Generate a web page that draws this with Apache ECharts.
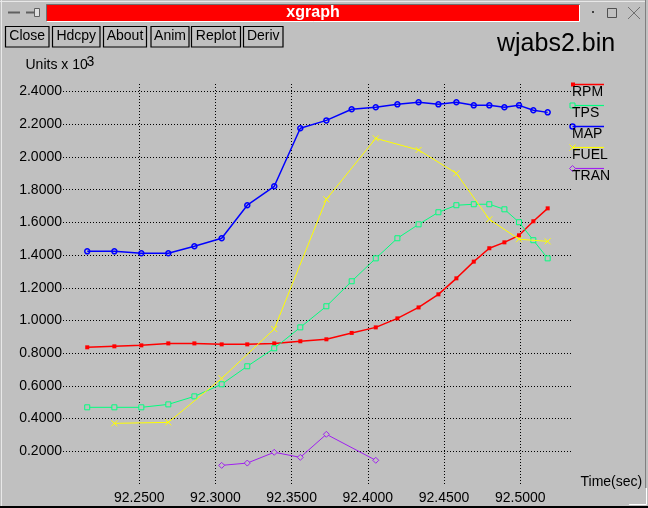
<!DOCTYPE html>
<html><head><meta charset="utf-8">
<script src="https://cdn.jsdelivr.net/npm/echarts@6/dist/echarts.min.js"></script>
<style>html,body{margin:0;padding:0;background:#c0c0c0;overflow:hidden}#c{width:648px;height:508px}</style>
</head><body><div id="c"></div>
<script>
// ---- data ----
const times = [92.2159, 92.2337, 92.2514, 92.2691, 92.2862, 92.3041, 92.3209, 92.3386, 92.3557, 92.3728, 92.3894,
               92.4052, 92.4194, 92.4333, 92.4463, 92.4581, 92.4695, 92.4797, 92.4896, 92.4992, 92.5086, 92.5180];
const rpm  = [0.836, 0.842, 0.848, 0.860, 0.860, 0.854, 0.854, 0.860, 0.873, 0.885, 0.924,
              0.958, 1.013, 1.080, 1.160, 1.258, 1.360, 1.442, 1.478, 1.521, 1.607, 1.686];
const tps  = [0.469, 0.469, 0.469, 0.487, 0.536, 0.610, 0.720, 0.830, 0.958, 1.087, 1.240,
              1.380, 1.503, 1.588, 1.662, 1.705, 1.711, 1.711, 1.680, 1.601, 1.491, 1.380];
const map  = [1.423, 1.423, 1.411, 1.411, 1.454, 1.503, 1.705, 1.821, 2.176, 2.224, 2.292,
              2.304, 2.322, 2.335, 2.322, 2.335, 2.316, 2.316, 2.304, 2.316, 2.286, 2.273];
const fuel = [null, 0.371, null, 0.377, null, 0.646, null, 0.948, null, 1.741, null,
              2.114, null, 2.043, null, 1.900, null, 1.619, null, 1.497, null, 1.484];
const tran = [null, null, null, null, null, 0.114, 0.128, 0.194, 0.163, 0.304, null,
              0.145, null, null, null, null, null, null, null, null, null, null];
const seriesNames = ['RPM', 'TPS', 'MAP', 'FUEL', 'TRAN'];
const seriesValues = [rpm, tps, map, fuel, tran];
const buttonLabels = ['Close', 'Hdcpy', 'About', 'Anim', 'Replot', 'Deriv'];
const windowTitle = 'xgraph';
const plotTitle = 'wjabs2.bin';
const yAxisTitle = 'Units x 10';
const yAxisExp = '3';
const xAxisTitle = 'Time(sec)';
const xMin = 92.2, xMax = 92.5333, xStep = 0.05;
const yMin = 0, yMax = 2.4465, yStep = 0.2;

// ---- styling ----
function hasFont(name) {
  const c = document.createElement('canvas').getContext('2d');
  const s = 'abcdefghijkWMxyz0123456789';
  c.font = '40px monospace'; const a = c.measureText(s).width;
  c.font = '40px "' + name + '", monospace'; const b = c.measureText(s).width;
  return Math.abs(a - b) > 0.5;
}
const narrow = hasFont('Liberation Sans Narrow');
const FF = narrow ? '"Liberation Sans Narrow", "Liberation Sans", sans-serif' : '"Liberation Sans", sans-serif';
const FS = narrow ? 16 : 14;
const WIDE = '"Liberation Sans", Arial, sans-serif';
const BG = '#c0c0c0';
const colors = ['#ff0000', '#00ff7f', '#0000ff', '#ffff00', '#a020f0'];
const lineWidths = [1.5, 1, 1.5, 1, 1];
const xMark = 'path://M0,0L10,10M10,0L0,10';
const symbols = ['rect', 'rect', 'circle', xMark, 'diamond'];
const symbolSizes = [4, 5, 5, 6, 6];
const symbolFill = ['#ff0000', BG, 'rgba(0,0,0,0)', 'rgba(0,0,0,0)', BG];
const symbolBorder = [0, 1, 1.5, 1, 1];

const series = seriesNames.map((name, k) => ({
  name, type: 'line',
  data: times.map((t, i) => [t, seriesValues[k][i]]).filter(p => p[1] != null),
  symbol: symbols[k], symbolSize: symbolSizes[k],
  itemStyle: { color: symbolFill[k], borderColor: colors[k], borderWidth: symbolBorder[k] },
  lineStyle: { color: colors[k], width: lineWidths[k] },
  silent: true, emphasis: { disabled: true }, z: 3 + k
}));

// ---- decorations (window frame, buttons, legend) ----
const g = [];
// window frame
g.push({ type: 'line', shape: { x1: 1.5, y1: 0, x2: 1.5, y2: 506 }, style: { stroke: '#e8e8e8', lineWidth: 1 } });
g.push({ type: 'line', shape: { x1: 0, y1: 1.5, x2: 646, y2: 1.5 }, style: { stroke: '#e8e8e8', lineWidth: 1 } });
g.push({ type: 'line', shape: { x1: 645.5, y1: 0, x2: 645.5, y2: 488 }, style: { stroke: '#808080', lineWidth: 1 } });
g.push({ type: 'rect', shape: { x: 0, y: 506, width: 648, height: 2 }, style: { fill: '#000' } });
g.push({ type: 'polyline', shape: { points: [[629, 504.5], [646.5, 504.5], [646.5, 488]] }, style: { stroke: '#ffffff', lineWidth: 1, fill: null } });
// title bar icons
g.push({ type: 'line', shape: { x1: 8, y1: 12.5, x2: 20, y2: 12.5 }, style: { stroke: '#606060', lineWidth: 2 } });
g.push({ type: 'line', shape: { x1: 26, y1: 12.5, x2: 34, y2: 12.5 }, style: { stroke: '#606060', lineWidth: 2 } });
g.push({ type: 'rect', shape: { x: 34.5, y: 8.5, width: 5, height: 8 }, style: { stroke: '#606060', fill: '#e0e0e0', lineWidth: 1 } });
g.push({ type: 'rect', shape: { x: 46.5, y: 4.5, width: 533, height: 16.5 }, style: { fill: '#ff0000', stroke: null } });
g.push({ type: 'polyline', shape: { points: [[46.5, 21], [46.5, 4.5], [579.5, 4.5]] }, style: { stroke: '#707070', lineWidth: 1, fill: null } });
g.push({ type: 'polyline', shape: { points: [[47, 21.5], [579.5, 21.5], [579.5, 5]] }, style: { stroke: '#ffffff', lineWidth: 1, fill: null } });
g.push({ type: 'text', x: 313, y: 13, style: { text: windowTitle, fill: '#ffffff', font: 'bold 16px ' + WIDE, align: 'center', verticalAlign: 'middle' } });
g.push({ type: 'rect', shape: { x: 592, y: 11, width: 2, height: 2 }, style: { fill: '#404040' } });
g.push({ type: 'rect', shape: { x: 607.5, y: 8.5, width: 9, height: 9 }, style: { stroke: '#505050', fill: null, lineWidth: 1 } });
g.push({ type: 'line', shape: { x1: 628, y1: 7, x2: 640, y2: 19 }, style: { stroke: '#707070', lineWidth: 1 } });
g.push({ type: 'line', shape: { x1: 640, y1: 7, x2: 628, y2: 19 }, style: { stroke: '#707070', lineWidth: 1 } });
// buttons
const btnX = [[5.5, 49], [52.5, 100], [103.5, 146.5], [151, 189], [191.5, 240.5], [243.5, 283]];
buttonLabels.forEach((lab, i) => {
  const [a, b] = btnX[i];
  g.push({ type: 'rect', shape: { x: a, y: 26.5, width: b - a, height: 20.5 }, style: { stroke: '#000', fill: null, lineWidth: 1.2 } });
  g.push({ type: 'text', x: (a + b) / 2, y: 36.5, style: { text: lab, fill: '#000', font: FS + 'px ' + FF, align: 'center', verticalAlign: 'middle' } });
});
// titles
g.push({ type: 'text', x: 497, y: 44.5, style: { text: plotTitle, fill: '#000', font: '25px ' + WIDE, align: 'left', verticalAlign: 'middle' } });
g.push({ type: 'text', x: 25.5, y: 65.5, style: { text: yAxisTitle, fill: '#000', font: FS + 'px ' + FF, align: 'left', verticalAlign: 'middle' } });
g.push({ type: 'text', x: 86.5, y: 62, style: { text: yAxisExp, fill: '#000', font: FS + 'px ' + FF, align: 'left', verticalAlign: 'middle' } });
g.push({ type: 'text', x: 580.5, y: 482, style: { text: xAxisTitle, fill: '#000', font: FS + 'px ' + FF, align: 'left', verticalAlign: 'middle' } });
// legend
seriesNames.forEach((name, k) => {
  const ly = 84.5 + 21 * k, lx = 572.5, c = colors[k];
  g.push({ type: 'line', shape: { x1: lx, y1: ly, x2: 604, y2: ly }, style: { stroke: c, lineWidth: k === 0 || k === 2 ? 1.5 : 1.2 } });
  if (k === 0) g.push({ type: 'rect', shape: { x: lx - 1.5, y: ly - 2, width: 4, height: 4 }, style: { fill: c } });
  if (k === 1) g.push({ type: 'rect', shape: { x: lx - 2.5, y: ly - 2.5, width: 5, height: 5 }, style: { fill: BG, stroke: c, lineWidth: 1 } });
  if (k === 2) g.push({ type: 'circle', shape: { cx: lx, cy: ly, r: 2.5 }, style: { fill: null, stroke: c, lineWidth: 1.5 } });
  if (k === 3) { g.push({ type: 'line', shape: { x1: lx - 3, y1: ly - 3, x2: lx + 3, y2: ly + 3 }, style: { stroke: c, lineWidth: 1 } });
                 g.push({ type: 'line', shape: { x1: lx + 3, y1: ly - 3, x2: lx - 3, y2: ly + 3 }, style: { stroke: c, lineWidth: 1 } }); }
  if (k === 4) g.push({ type: 'polygon', shape: { points: [[lx - 3, ly], [lx, ly - 3], [lx + 3, ly], [lx, ly + 3]] }, style: { fill: BG, stroke: c, lineWidth: 1 } });
  g.push({ type: 'text', x: lx - 0.5, y: ly + 7.5, style: { text: name, fill: '#000', font: FS + 'px ' + FF, align: 'left', verticalAlign: 'middle' } });
});

const gridLine = { show: true, showMinLine: false, showMaxLine: false, lineStyle: { color: '#000', width: 1, type: [1, 2] } };
const chart = echarts.init(document.getElementById('c'), null, { renderer: 'canvas' });
chart.setOption({
  animation: false,
  backgroundColor: BG,
  textStyle: { fontFamily: FF },
  grid: { left: 63, right: 77, top: 84, bottom: 24, containLabel: false, show: false },
  xAxis: {
    type: 'value', min: xMin, max: xMax, interval: xStep,
    axisLine: { show: false }, axisTick: { show: false },
    splitLine: gridLine,
    axisLabel: { showMinLabel: false, showMaxLabel: false, color: '#000', fontSize: FS, fontFamily: FF, margin: 7,
                 formatter: v => v.toFixed(4) }
  },
  yAxis: {
    type: 'value', min: yMin, max: yMax, interval: yStep,
    axisLine: { show: false }, axisTick: { show: false },
    splitLine: gridLine,
    axisLabel: { showMinLabel: false, showMaxLabel: false, color: '#000', fontSize: FS, fontFamily: FF, margin: 1,
                 formatter: v => v.toFixed(4) }
  },
  series,
  graphic: { elements: g }
});
</script></body></html>
